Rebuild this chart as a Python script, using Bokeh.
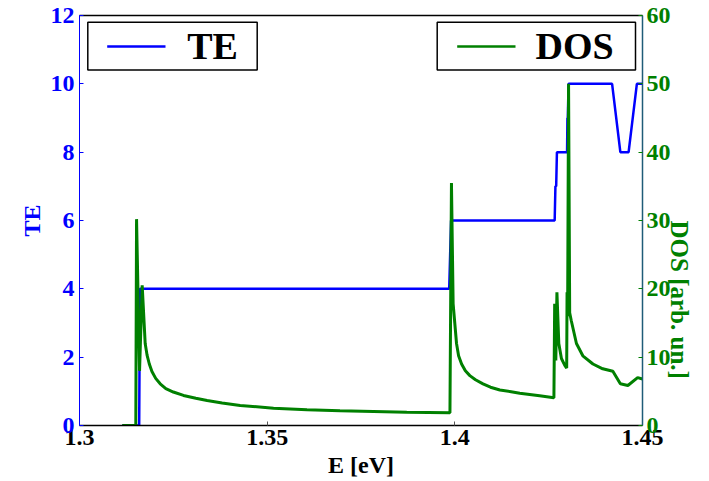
import math
from bokeh.plotting import figure
from bokeh.models import Range1d, LinearAxis, FixedTicker, BoxAnnotation, Label, Arrow
from bokeh.embed import file_html
from bokeh.resources import INLINE

# ---- data ----
E_te = [1.3114, 1.3159, 1.3161, 1.3985, 1.3990, 1.4266, 1.4268, 1.4270,
        1.4272, 1.4299, 1.4300, 1.4301, 1.4303, 1.4419, 1.4441, 1.4463,
        1.4485, 1.4500]
te = [0, 0, 4, 4, 6, 6, 7, 7, 8, 8, 9, 9, 10, 10, 8, 8, 10, 10]

E_dos = [1.3114, 1.3150, 1.3152, 1.3160, 1.3167, 1.3175, 1.3180, 1.3186,
         1.3193, 1.3203, 1.3215, 1.3230, 1.3250, 1.3277, 1.3310, 1.3340,
         1.3380, 1.3428, 1.3517, 1.3606, 1.3694, 1.3783, 1.3872, 1.3987,
         1.3991, 1.39955, 1.40045, 1.4010, 1.4018, 1.4028, 1.4040, 1.4055,
         1.4075, 1.4095, 1.4120, 1.4150, 1.4173, 1.4226, 1.4264, 1.4266,
         1.4269, 1.4272, 1.4277, 1.4284, 1.4293, 1.4298, 1.4299, 1.43005,
         1.4303, 1.4306, 1.4310, 1.4324, 1.4341, 1.4368, 1.4394, 1.4421,
         1.4441, 1.4461, 1.4487, 1.4500]
dos = [0.0, 0.0, 30.2, 8.0, 20.5, 12.0, 10.3, 9.0,
       7.9, 6.9, 6.1, 5.4, 4.9, 4.4, 4.0, 3.66,
       3.3, 2.93, 2.54, 2.29, 2.15, 2.05, 1.95, 1.85,
       35.5, 17.8, 12.0, 10.2, 9.0, 8.0, 7.3, 6.7,
       6.1, 5.6, 5.2, 4.95, 4.73, 4.35, 4.05, 17.8,
       9.5, 19.5, 12.0, 9.8, 8.8, 8.4, 19.5, 16.0,
       50.0, 16.5, 15.4, 12.0, 10.2, 9.0, 8.3, 7.95,
       6.1, 5.85, 7.0, 6.8]

x_ticks = [1.3, 1.35, 1.4, 1.45]
x_tick_labels = ["1.3", "1.35", "1.4", "1.45"]
te_ticks = [0, 2, 4, 6, 8, 10, 12]
dos_ticks = [0, 10, 20, 30, 40, 50, 60]

FONT = "Liberation Serif"
BLUE = "#0000ff"
GREEN = "#008000"
TEAL = "#1f5c78"

p = figure(width=709, height=481, output_backend="svg", toolbar_location=None,
           x_range=Range1d(1.3, 1.45), y_range=Range1d(0, 12),
           min_border_left=79, min_border_right=66, min_border_top=15,
           min_border_bottom=56)
p.extra_y_ranges = {"dos": Range1d(0, 60)}
p.grid.visible = False
p.outline_line_color = None
p.background_fill_color = "white"
p.border_fill_color = "white"

# x axis
xa = p.xaxis[0]
xa.ticker = FixedTicker(ticks=x_ticks)
xa.major_label_overrides = dict(zip(x_ticks, x_tick_labels))
xa.axis_line_color = "black"
xa.axis_line_width = 1.5
xa.major_tick_in = 4
xa.major_tick_out = 0
xa.major_tick_line_color = "#555555"
xa.minor_tick_line_color = None
xa.major_label_text_font = FONT
xa.major_label_text_font_style = "bold"
xa.major_label_text_font_size = "24px"
xa.major_label_text_color = "black"
xa.major_label_standoff = 4
xa.axis_label = "E [eV]"
xa.axis_label_text_font = FONT
xa.axis_label_text_font_style = "bold"
xa.axis_label_text_font_size = "24px"
xa.axis_label_text_color = "black"
xa.axis_label_standoff = 4

# left axis
ya = p.yaxis[0]
ya.ticker = FixedTicker(ticks=te_ticks)
ya.axis_line_color = BLUE
ya.major_tick_in = 4
ya.major_tick_out = 0
ya.major_tick_line_color = BLUE
ya.minor_tick_line_color = None
ya.major_label_text_font = FONT
ya.major_label_text_font_style = "bold"
ya.major_label_text_font_size = "24px"
ya.major_label_text_color = BLUE
ya.major_label_standoff = 5
ya.axis_label = "TE"
ya.axis_label_text_font = FONT
ya.axis_label_text_font_style = "bold"
ya.axis_label_text_font_size = "24px"
ya.axis_label_text_color = BLUE
ya.axis_label_standoff = 3

# right axis
ra = LinearAxis(y_range_name="dos", ticker=FixedTicker(ticks=dos_ticks))
ra.axis_line_color = TEAL
ra.axis_line_width = 1.5
ra.major_tick_in = 4
ra.major_tick_out = 0
ra.major_tick_line_color = GREEN
ra.minor_tick_line_color = None
ra.major_label_text_font = FONT
ra.major_label_text_font_style = "bold"
ra.major_label_text_font_size = "24px"
ra.major_label_text_color = GREEN
ra.major_label_standoff = 4
ra.axis_label = "DOS [arb. un.]"
ra.axis_label_text_font = FONT
ra.axis_label_text_font_style = "bold"
ra.axis_label_text_font_size = "25px"
ra.axis_label_text_color = GREEN
ra.axis_label_standoff = 6
ra.axis_label_orientation = -math.pi / 2
p.add_layout(ra, "right")

# top border
ta = LinearAxis(ticker=FixedTicker(ticks=[]))
ta.axis_line_color = "black"
ta.axis_line_width = 1.5
ta.major_tick_line_color = None
ta.minor_tick_line_color = None
ta.major_label_text_font_size = "0px"
ta.major_label_standoff = 0
p.add_layout(ta, "above")

# data
p.line(E_te, te, line_color=BLUE, line_width=2.5)
p.line(E_dos, dos, y_range_name="dos", line_color=GREEN, line_width=3)

# legends (screen units relative to the frame's bottom-left)
for (l, r, lx0, lx1, tx, txt, col) in [
        (8.3, 177.7, 27.7, 86.0, 107.7, "TE", BLUE),
        (357.7, 556.0, 377.7, 436.0, 456.0, "DOS", GREEN)]:
    p.add_layout(BoxAnnotation(left=l, right=r, bottom=355.5, top=403.3,
                               left_units="screen", right_units="screen",
                               bottom_units="screen", top_units="screen",
                               fill_color="white", fill_alpha=1.0,
                               line_color="black", line_width=1.5, line_alpha=1.0))
    p.add_layout(Arrow(end=None, x_start=lx0, y_start=379, x_end=lx1, y_end=379,
                       start_units="screen", end_units="screen",
                       line_color=col, line_width=2.5))
    p.add_layout(Label(x=tx, y=380, x_units="screen", y_units="screen",
                       text=txt, text_font=FONT, text_font_style="bold",
                       text_font_size="38px", text_color="black",
                       text_baseline="alphabetic"))

open("out.html", "w").write(file_html(p, INLINE))
